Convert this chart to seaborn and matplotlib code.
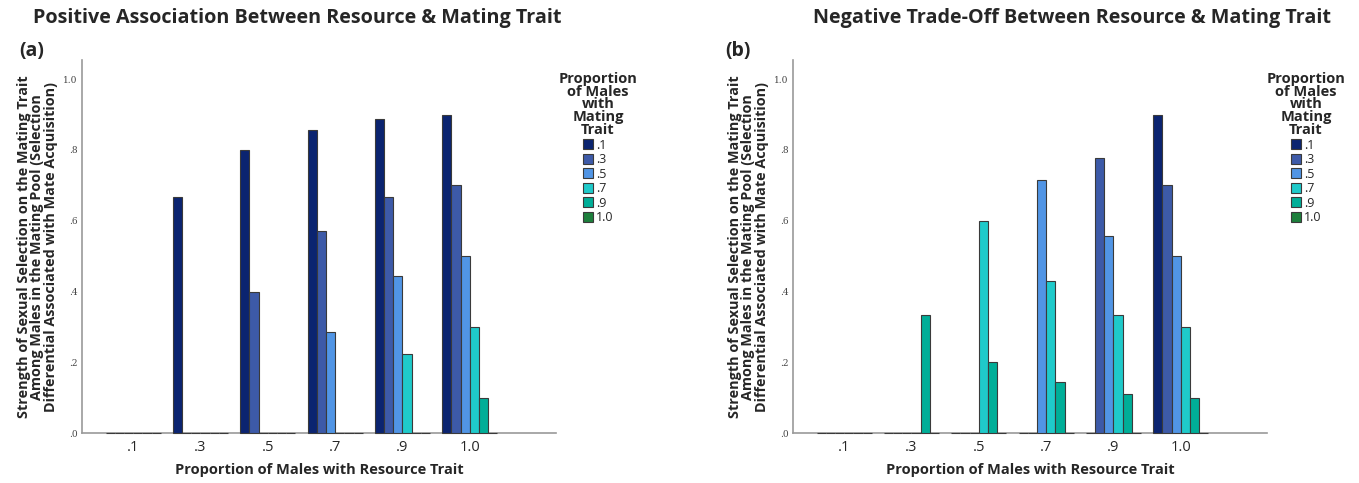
import numpy as np
import pandas as pd
import matplotlib
matplotlib.use("Agg")
import matplotlib.pyplot as plt
import seaborn as sns

# categories
resource = [".1", ".3", ".5", ".7", ".9", "1.0"]
mating = [".1", ".3", ".5", ".7", ".9", "1.0"]
colors = ["#0b2470", "#3d5aa8", "#5195e5", "#1fcaca", "#00ae98", "#1d7f3c"]

# values[resource][mating]
pos_vals = [
    [0, 0, 0, 0, 0, 0],
    [0.667, 0, 0, 0, 0, 0],
    [0.80, 0.40, 0, 0, 0, 0],
    [0.857, 0.571, 0.286, 0, 0, 0],
    [0.889, 0.667, 0.444, 0.222, 0, 0],
    [0.90, 0.70, 0.50, 0.30, 0.10, 0],
]
neg_vals = [
    [0, 0, 0, 0, 0, 0],
    [0, 0, 0, 0, 0.333, 0],
    [0, 0, 0, 0.60, 0.20, 0],
    [0, 0, 0.714, 0.429, 0.143, 0],
    [0, 0.778, 0.556, 0.333, 0.111, 0],
    [0.90, 0.70, 0.50, 0.30, 0.10, 0],
]

titles = ["Positive Association Between Resource & Mating Trait",
          "Negative Trade-Off Between Resource & Mating Trait"]
ylab = ("Strength of Sexual Selection on the Mating Trait\n"
        "Among Males in the Mating Pool (Selection\n"
        "Differential Associated with Mate Acquisition)")

sns.set_style("white")
plt.rcParams["font.family"] = ["Open Sans", "DejaVu Sans"]

fig = plt.figure(figsize=(13.59, 4.83), dpi=100)

lefts = [0.0603, 0.5835]
title_x = [0.219, 0.789]
tag_x = [0.014, 0.534]
leg_x = [0.44, 0.961]

for i, vals in enumerate([pos_vals, neg_vals]):
    df = pd.DataFrame([(r, m, vals[a][b]) for a, r in enumerate(resource)
                       for b, m in enumerate(mating)],
                      columns=["resource", "mating", "value"])
    ax = fig.add_axes([lefts[i], 0.1035, 0.3488, 0.772])
    sns.barplot(data=df, x="resource", y="value", hue="mating",
                order=resource, hue_order=mating, palette=colors,
                saturation=1, width=0.82, edgecolor="#3a3a3a", linewidth=0.8,
                errorbar=None, zorder=3, clip_on=False, ax=ax)
    ax.set_xlim(-0.76, 6.28)
    ax.set_ylim(0, 1.054)
    ax.set_yticks([0, 0.2, 0.4, 0.6, 0.8, 1.0])
    ax.set_yticklabels([".0", ".2", ".4", ".6", ".8", "1.0"], fontsize=6.5,
                       color="#444444", family="DejaVu Serif")
    ax.tick_params(axis="x", labelsize=10.5, length=0, pad=5)
    ax.tick_params(axis="y", length=0, pad=3)
    for s in ["top", "right"]:
        ax.spines[s].set_visible(False)
    for s in ["left", "bottom"]:
        ax.spines[s].set_color("#9a9a9a")
        ax.spines[s].set_linewidth(1.2)
    ax.set_xlabel("Proportion of Males with Resource Trait", fontsize=10.5,
                  fontweight="bold", labelpad=6)
    ax.set_ylabel(ylab, fontsize=10.4, fontweight="bold", linespacing=0.95,
                  labelpad=4)

    handles, labels = ax.get_legend_handles_labels()
    ax.get_legend().remove()
    leg = fig.legend(handles, labels, loc="upper center",
                     bbox_to_anchor=(leg_x[i], 0.875),
                     title="Proportion\nof Males\nwith\nMating\nTrait",
                     title_fontproperties={"weight": "bold", "size": 10.5},
                     fontsize=9, frameon=False, handlelength=0.85,
                     handleheight=0.85, handletextpad=0.2, labelspacing=0.12,
                     alignment="center")
    leg.get_title().set_multialignment("center")
    leg.get_title().set_linespacing(0.9)

    fig.text(title_x[i], 0.963, titles[i], ha="center", va="center",
             fontsize=14.2, fontweight="bold")
    fig.text(tag_x[i], 0.895, "(a)" if i == 0 else "(b)", ha="left",
             va="center", fontsize=14, fontweight="bold")

fig.savefig("out.png", dpi=100)
